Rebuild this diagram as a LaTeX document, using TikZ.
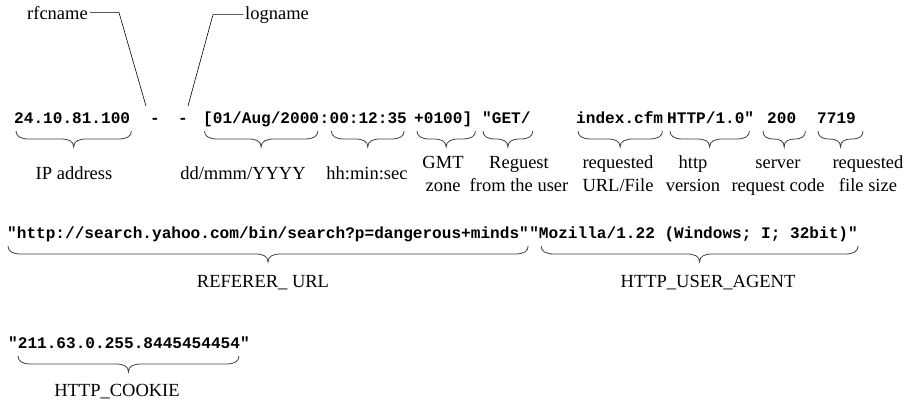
\documentclass[tikz,border=0pt]{standalone}
\usepackage{fontspec}
\setmainfont{Liberation Serif}
\newfontfamily\codefont{Liberation Mono}
\usetikzlibrary{calc}

\tikzset{
  code/.style={font=\codefont\bfseries\fontsize{16.1}{19}\selectfont,
    inner sep=0pt, anchor=base west},
  lab/.style={font=\fontsize{18.5}{23}\selectfont, inner sep=0pt, anchor=base},
  labtwo/.style={font=\fontsize{18.5}{23}\selectfont, inner sep=0pt,
    align=center, anchor=north},
  brc/.style={draw=black!75, line width=0.8pt},
  leader/.style={draw=black, line width=0.6pt},
}

% curly brace under a node: #1 node, #2 left inset, #3 right inset, #4 top y
\newcommand\ubr[4]{%
  \draw[brc] let \p1=($(#1.west)+(#2,0)$), \p2=($(#1.east)-(#3,0)$),
      \n1={(\x1+\x2)/2}, \n2={min(13,(\x2-\x1)/4)} in
    (\x1,#4) .. controls (\x1,#4-5) and (\x1+0.3*\n2,#4-8) .. (\x1+\n2,#4-8)
    -- (\n1-\n2,#4-8) .. controls (\n1-0.4*\n2,#4-8) and (\n1,#4-10) .. (\n1,#4-16)
    .. controls (\n1,#4-10) and (\n1+0.4*\n2,#4-8) .. (\n1+\n2,#4-8)
    -- (\x2-\n2,#4-8) .. controls (\x2-0.3*\n2,#4-8) and (\x2,#4-5) .. (\x2,#4);}

\begin{document}
\begin{tikzpicture}[x=1pt,y=1pt]
\useasboundingbox (0,0) rectangle (908,-407);

% ---- first log line ----
\node[code] (ip) at (14,-123) {24.10.81.100};
\node[code,anchor=base] (d1) at (155,-123) {-};
\node[code,anchor=base] (d2) at (183,-123) {-};
\node[code] (date) at (203,-123) {[01/Aug/2000};
\node[code] (colon) at (date.base east) {:};
\node[code] (time) at (colon.base east) {00:12:35};
\node[code] (tz) at (414,-123) {+0100]};
\node[code] (get) at (482,-123) {"GET/};
\node[code] (file) at (576,-123) {index.cfm};
\node[code] (ver) at (667,-123) {HTTP/1.0"};
\node[code] (stat) at (767,-123) {200};
\node[code] (size) at (817,-123) {7719};

\ubr{ip}{2}{-1}{-131}
\ubr{date}{1.5}{1.5}{-131}
\ubr{time}{2}{3}{-131}
\ubr{tz}{3}{-3}{-131}
\ubr{get}{1}{-2}{-131}
\ubr{file}{2}{1}{-131}
\ubr{ver}{3}{5}{-131}
\ubr{stat}{-4}{-9}{-131}
\ubr{size}{1}{-7}{-131}

% ---- field names under the first line ----
\node[lab] (lip) at (74,-179) {IP address};
\node[lab] (ldate) at (243,-179) {dd/mmm/YYYY};
\node[lab] (ltime) at (367,-179) {hh:min:sec};
\node[labtwo] (ltz) at (443,-151.9) {\strut GMT\\zone};
\node[labtwo] (lget) at (519,-151.9) {\strut Reguest\\from the user};
\node[labtwo] (lfile) at (618,-151.9) {\strut requested\\URL/File};
\node[labtwo] (lver) at (693,-151.9) {\strut http\\version};
\node[labtwo] (lstat) at (778,-151.9) {\strut server\\request code};
\node[labtwo] (lsize) at (868,-151.9) {\strut requested\\file size};

% ---- rfcname / logname leaders ----
\node[lab,anchor=base east] (rfc) at (88,-19) {rfcname};
\node[lab,anchor=base west] (log) at (245,-19) {logname};
\coordinate (rfcKnee) at (119,-14);
\coordinate (rfcEnd) at (146,-106);
\coordinate (logKnee) at (213,-14);
\coordinate (logEnd) at (188,-106);
\draw[leader] ([xshift=2pt]rfc.east) -- (rfc.east -| rfcKnee) -- (rfcEnd);
\draw[leader] ([xshift=-2pt]log.west) -- (log.west -| logKnee) -- (logEnd);

% ---- second line ----
\node[code] (ref) at (7,-238) {"http://search.yahoo.com/bin/search?p=dangerous+minds"};
\node[code] (agent) at (ref.base east) {"Mozilla/1.22 (Windows; I; 32bit)"};
\ubr{ref}{1}{1}{-246}
\ubr{agent}{12}{0}{-246}
\node[lab] (lref) at (263,-287) {REFERER\_ URL};
\node[lab] (lagent) at (708,-287) {HTTP\_USER\_AGENT};

% ---- cookie ----
\node[code] (cookie) at (8,-348) {"211.63.0.255.8445454454"};
\ubr{cookie}{10}{11}{-356}
\node[lab] (lcookie) at (117,-396) {HTTP\_COOKIE};
\end{tikzpicture}
\end{document}
